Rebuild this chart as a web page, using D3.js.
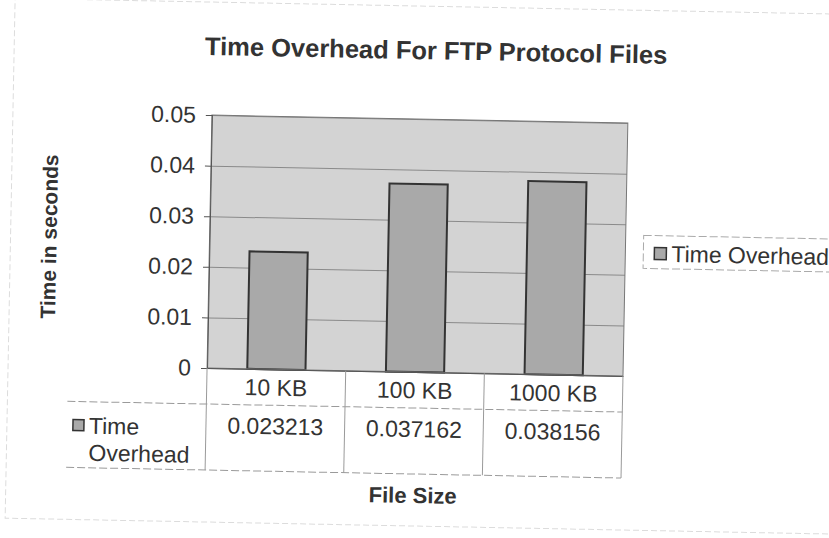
<!DOCTYPE html>
<html>
<head>
<meta charset="utf-8">
<script src="https://cdn.jsdelivr.net/npm/d3@7"></script>
<style>
  body { margin: 0; background: #fff; }
  text { font-family: "Liberation Sans", Arial, sans-serif; fill: #333; }
</style>
</head>
<body>
<div id="chart"></div>
<script>
//Chart data
const categories = ["10 KB", "100 KB", "1000 KB"];
const timeOverhead = [0.023213, 0.037162, 0.038156];
const yTicks = [0, 0.01, 0.02, 0.03, 0.04, 0.05];
const seriesName = "Time Overhead";

//SVG dimensions
const svgWidth = 829;
const svgHeight = 538;

//Plot area position
const plot = { left: 209, top: 119, right: 625, bottom: 372 };
const width = plot.right - plot.left;
const height = plot.bottom - plot.top;

//Colours
const plotFill = "#d3d3d3";
const barFill = "#a9a9a9";
const barStroke = "#333";
const gridColor = "#8a8a8a";
const labelSize = "23px";

const svg = d3.select("#chart")
    .append("svg")
    .attr("width", svgWidth)
    .attr("height", svgHeight);

//the scanned chart is tilted by about one degree
const chart = svg.append("g")
    .attr("transform", "rotate(1.1, 415, 269)");

//outer chart border (faint)
chart.append("rect")
    .attr("x", 10).attr("y", 6)
    .attr("width", 840).attr("height", 520)
    .attr("fill", "none")
    .attr("stroke", "#dcdcdc")
    .attr("stroke-dasharray", "6,3");

//Scales
const x = d3.scaleBand()
    .domain(categories)
    .range([0, width])
    .padding(0);

const y = d3.scaleLinear()
    .domain([0, 0.05])
    .range([height, 0]);

const g = chart.append("g")
    .attr("transform", `translate(${plot.left}, ${plot.top})`);

//plot background
g.append("rect")
    .attr("width", width)
    .attr("height", height)
    .attr("fill", plotFill);

//gridlines
g.append("g")
    .call(d3.axisLeft(y).tickValues(yTicks).tickSize(-width).tickFormat(""))
    .call(s => s.select(".domain").remove())
    .selectAll("line")
    .attr("stroke", gridColor)
    .attr("stroke-width", 1);

//bars
const barWidth = x.bandwidth() * 0.42;
g.selectAll(".bar")
    .data(timeOverhead)
    .enter()
    .append("rect")
    .attr("class", "bar")
    .attr("x", (d, i) => x(categories[i]) + (x.bandwidth() - barWidth) / 2)
    .attr("y", d => y(d))
    .attr("width", barWidth)
    .attr("height", d => height - y(d))
    .attr("fill", barFill)
    .attr("stroke", barStroke)
    .attr("stroke-width", 2);

//plot border
g.append("rect")
    .attr("width", width)
    .attr("height", height)
    .attr("fill", "none")
    .attr("stroke", "#777");

//y axis
const yAxis = g.append("g")
    .call(d3.axisLeft(y)
        .tickValues(yTicks)
        .tickSize(6)
        .tickPadding(10)
        .tickFormat(d => d === 0 ? "0" : d3.format(".2f")(d)));
yAxis.select(".domain").attr("stroke", "#555");
yAxis.selectAll("line").attr("stroke", "#555");
yAxis.selectAll("text")
    .attr("font-size", labelSize)
    .attr("fill", "#333")
    .attr("font-family", "Liberation Sans, Arial, sans-serif");

//x axis category labels (first row of the data table)
const xAxis = g.append("g")
    .attr("transform", `translate(0, ${height})`)
    .call(d3.axisBottom(x).tickSize(0).tickPadding(10));
xAxis.select(".domain").attr("stroke", "#555");
xAxis.selectAll("text")
    .attr("font-size", labelSize)
    .attr("fill", "#333")
    .attr("font-family", "Liberation Sans, Arial, sans-serif");

//Data table below the chart
const rowTop = height;
const rowMid = height + 36;
const rowBottom = height + 102;
const tableLine = "#9a9a9a";

//vertical column lines
const colEdges = categories.map(c => x(c)).concat([width]);
g.selectAll(".col-line")
    .data(colEdges)
    .enter()
    .append("line")
    .attr("x1", d => d).attr("x2", d => d)
    .attr("y1", rowTop).attr("y2", rowBottom)
    .attr("stroke", tableLine);

//horizontal row lines
g.append("line")
    .attr("x1", 70 - plot.left).attr("x2", width)
    .attr("y1", rowMid).attr("y2", rowMid)
    .attr("stroke", tableLine)
    .attr("stroke-dasharray", "8,3");
g.append("line")
    .attr("x1", 70 - plot.left).attr("x2", width)
    .attr("y1", rowBottom).attr("y2", rowBottom)
    .attr("stroke", tableLine)
    .attr("stroke-dasharray", "8,3");

//values row
g.selectAll(".val-label")
    .data(timeOverhead)
    .enter()
    .append("text")
    .attr("class", "val-label")
    .attr("x", (d, i) => x(categories[i]) + x.bandwidth() / 2)
    .attr("y", rowMid + 29)
    .attr("text-anchor", "middle")
    .attr("font-size", labelSize)
    .text(d => d3.format(".6f")(d));

//legend key in table
g.append("rect")
    .attr("x", 76 - plot.left)
    .attr("y", rowMid + 18)
    .attr("width", 11).attr("height", 11)
    .attr("fill", barFill)
    .attr("stroke", barStroke)
    .attr("stroke-width", 1.5);
g.append("text")
    .attr("x", 92 - plot.left)
    .attr("y", rowMid + 32)
    .attr("font-size", labelSize)
    .text("Time");
g.append("text")
    .attr("x", 92 - plot.left)
    .attr("y", rowMid + 59)
    .attr("font-size", labelSize)
    .text("Overhead");

//Title
chart.append("text")
    .attr("x", 432)
    .attr("y", 59)
    .attr("text-anchor", "middle")
    .attr("font-size", "25.5px")
    .attr("font-weight", "bold")
    .text("Time Overhead For FTP Protocol Files");

//Axis titles
chart.append("text")
    .attr("transform", `translate(56, ${plot.top + height / 2 - 2}) rotate(-90)`)
    .attr("text-anchor", "middle")
    .attr("font-size", "21px")
    .attr("font-weight", "bold")
    .text("Time in seconds");

chart.append("text")
    .attr("x", plot.left + width / 2)
    .attr("y", 503)
    .attr("text-anchor", "middle")
    .attr("font-size", "22px")
    .attr("font-weight", "bold")
    .text("File Size");

//Legend on the right
const legend = chart.append("g")
    .attr("transform", "translate(643, 231)");
legend.append("rect")
    .attr("width", 200)
    .attr("height", 33)
    .attr("fill", "none")
    .attr("stroke", "#aaa")
    .attr("stroke-dasharray", "8,3");
legend.append("rect")
    .attr("x", 11).attr("y", 12)
    .attr("width", 12).attr("height", 12)
    .attr("fill", barFill)
    .attr("stroke", barStroke)
    .attr("stroke-width", 1.5);
legend.append("text")
    .attr("x", 28)
    .attr("y", 26)
    .attr("font-size", labelSize)
    .text(seriesName);
</script>
</body>
</html>
